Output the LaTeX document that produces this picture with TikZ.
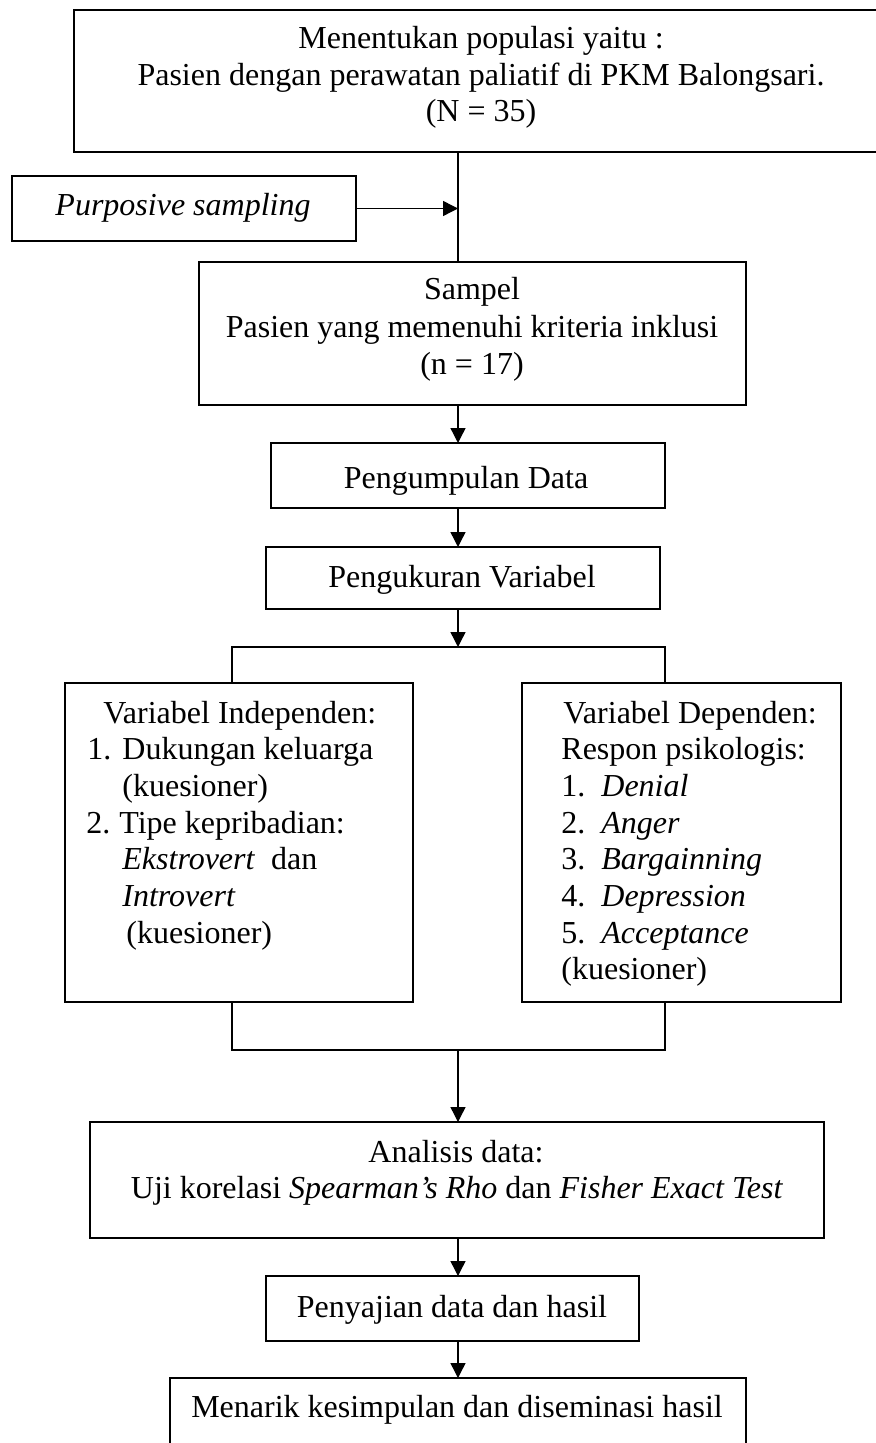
\documentclass[tikz,border=0pt]{standalone}
\usepackage{fontspec}
\setmainfont{Liberation Serif}
\usetikzlibrary{arrows.meta}
\tikzset{
  box/.style={draw, line width=0.75pt, inner sep=0pt, outer sep=0pt},
  txt/.style={inner sep=0pt, font=\fontsize{16}{18}\selectfont},
  conn/.style={line width=0.7pt},
  arr/.style={conn, -{Triangle[length=7.5pt,width=7.5pt]}}
}
\begin{document}
\begin{tikzpicture}[x=0.5pt,y=-0.5pt]
\useasboundingbox (0,0) rectangle (876,1443);
\clip (0,0) rectangle (876,1443);
\fill[white] (0,0) rectangle (876,1443);
\coordinate (sp) at (458,0);
\coordinate (lx) at (232,0);
\coordinate (rx) at (665,0);
\coordinate (j1) at (458,647);
\coordinate (j2) at (458,1050);
% boxes
\node[box, minimum width=408pt, minimum height=71pt] (top) at (482,81) {};
\node[box, minimum width=172pt, minimum height=32.5pt] (purp) at (184,208.5) {};
\node[box, minimum width=273.5pt, minimum height=71.5pt] (samp) at (472.5,333.5) {};
\node[box, minimum width=197pt, minimum height=32.5pt] (kump) at (468,475.5) {};
\node[box, minimum width=197pt, minimum height=31pt] (ukur) at (463,578) {};
\node[box, minimum width=174pt, minimum height=159.5pt] (left) at (239,842.5) {};
\node[box, minimum width=159.5pt, minimum height=159.5pt] (right) at (681.5,842.5) {};
\node[box, minimum width=367pt, minimum height=58pt] (anal) at (457,1180) {};
\node[box, minimum width=186.5pt, minimum height=32.5pt] (saji) at (452.5,1308.5) {};
\node[box, minimum width=288pt, minimum height=42pt] (tarik) at (458,1420) {};
% texts
\node[txt, anchor=base] (t1) at (481,49) {Menentukan populasi yaitu :};
\node[txt, anchor=base] (t2) at (481,85.5) {Pasien dengan perawatan paliatif di PKM Balongsari.};
\node[txt, anchor=base] (t3) at (481,122) {(N = 35)};
\node[txt, anchor=base] (tp) at (183,216) {\textit{Purposive sampling}};
\node[txt, anchor=base] (s1) at (472,300) {Sampel};
\node[txt, anchor=base] (s2) at (472,337.5) {Pasien yang memenuhi kriteria inklusi};
\node[txt, anchor=base] (s3) at (472,375) {(n = 17)};
\node[txt, anchor=base] (tk) at (466,488) {Pengumpulan Data};
\node[txt, anchor=base] (tu) at (462,587) {Pengukuran Variabel};
% left box
\node[txt, anchor=base west] (l1) at (103,723) {Variabel Independen:};
\node[txt, anchor=base west] (l2a) at (87,759.7) {1.};
\node[txt, anchor=base west] (l2) at (122,759.7) {Dukungan keluarga};
\node[txt, anchor=base west] (l3) at (122,796.3) {(kuesioner)};
\node[txt, anchor=base west] (l4a) at (86,833) {2.};
\node[txt, anchor=base west] (l4) at (119,833) {Tipe kepribadian:};
\node[txt, anchor=base west] (l5) at (122,869.7) {\textit{Ekstrovert}\ \ dan};
\node[txt, anchor=base west] (l6) at (122,906.3) {\textit{Introvert}};
\node[txt, anchor=base west] (l7) at (126,943) {(kuesioner)};
% right box
\node[txt, anchor=base west] (r1) at (563,723) {Variabel Dependen:};
\node[txt, anchor=base west] (r2) at (561,759.7) {Respon psikologis:};
\node[txt, anchor=base west] (r3) at (561,796.3) {1.\ \ \textit{Denial}};
\node[txt, anchor=base west] (r4) at (561,833) {2.\ \ \textit{Anger}};
\node[txt, anchor=base west] (r5) at (561,869.7) {3.\ \ \textit{Bargainning}};
\node[txt, anchor=base west] (r6) at (561,906.3) {4.\ \ \textit{Depression}};
\node[txt, anchor=base west] (r7) at (561,943) {5.\ \ \textit{Acceptance}};
\node[txt, anchor=base west] (r8) at (561,979.7) {(kuesioner)};
% lower texts
\node[txt, anchor=base] (a1) at (456,1162) {Analisis data:};
\node[txt, anchor=base] (a2) at (457,1198) {Uji korelasi \textit{Spearman’s Rho} dan \textit{Fisher Exact Test}};
\node[txt, anchor=base] (ts) at (452,1317) {Penyajian data dan hasil};
\node[txt, anchor=base] (tm) at (457,1417) {Menarik kesimpulan dan diseminasi hasil};
% connectors
\draw[conn] (top.south -| sp) -- (samp.north -| sp);
\draw[arr] (purp.east) -- (purp.east -| sp);
\draw[arr] (samp.south -| sp) -- (kump.north -| sp);
\draw[arr] (kump.south -| sp) -- (ukur.north -| sp);
\draw[arr] (ukur.south -| sp) -- (j1);
\draw[conn] (left.north -| lx) -- (j1 -| lx) -- (j1 -| rx) -- (right.north -| rx);
\draw[conn] (left.south -| lx) -- (j2 -| lx) -- (j2 -| rx) -- (right.south -| rx);
\draw[arr] (j2) -- (anal.north -| sp);
\draw[arr] (anal.south -| sp) -- (saji.north -| sp);
\draw[arr] (saji.south -| sp) -- (tarik.north -| sp);
\end{tikzpicture}
\end{document}
